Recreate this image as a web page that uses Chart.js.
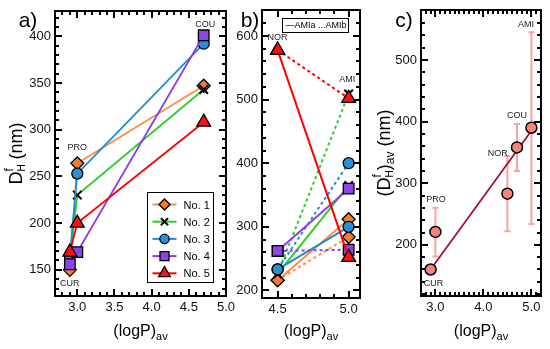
<!DOCTYPE html>
<html>
<head>
<meta charset="utf-8">
<script src="https://cdn.jsdelivr.net/npm/chart.js@4.4.1/dist/chart.umd.min.js"></script>
<style>
  body { margin: 0; background: #fff; width: 550px; height: 349px; position: relative; overflow: hidden; }
  canvas { position: absolute; top: 0; }
</style>
</head>
<body>
<canvas id="grafico-a" width="240" height="349" style="left:0"></canvas>
<canvas id="grafico-b" width="150" height="349" style="left:225px"></canvas>
<canvas id="grafico-c" width="185" height="349" style="left:365px"></canvas>
<script>
// a) D_H per site (CUR, PRO, COU)
const siteLogP = [2.9, 3.0, 4.7];
const dNo1 = [150, 264, 347];
const dNo2 = [162, 230, 343];
const dNo3 = [165, 253, 392];
const dNo4 = [156, 169, 401];
const dNo5 = [169, 200, 308];

// b) NOR -> AMI, solid = AMIa, dotted = AMIb
const norAmiLogP = [4.5, 5.0];
const amiaNo1 = [216, 312];
const amibNo1 = [216, 284];
const amiaNo2 = [226, 365];
const amibNo2 = [226, 509];
const amiaNo3 = [233, 300];
const amibNo3 = [233, 400];
const amiaNo4 = [262, 360];
const amibNo4 = [262, 264];
const amiaNo5 = [578, 252];
const amibNo5 = [578, 502];

// c) site averages with spread
const avgSites = ['CUR', 'PRO', 'NOR', 'COU', 'AMI'];
const avgLogP = [2.9, 3.0, 4.5, 4.7, 5.0];
const avgD = [160, 221, 283, 358, 390];
const avgLo = [null, 181, 222, 320, 234];
const avgHi = [null, 260, 344, 396, 545];
const fitLogP = [2.9, 5.0];
const fitD = [160, 385];

// tick labels
const xTicksA = [3.0, 3.5, 4.0, 4.5, 5.0];
const yTicksA = [150, 200, 250, 300, 350, 400];
const xTicksB = [4.5, 5.0];
const yTicksB = [200, 300, 400, 500, 600];
const xTicksC = [3.0, 4.0, 5.0];
const yTicksC = [200, 300, 400, 500];

const FONT = '"Liberation Sans", Arial, Helvetica, sans-serif';

const estilos = [
  { line: '#ff8c46', fill: '#f27b33', ps: 'rectRot', r: 6.5 },
  { line: '#2ecc2e', fill: '#000000', ps: 'crossRot', r: 6 },
  { line: '#1d8ed6', fill: '#2690d8', ps: 'circle', r: 5.5 },
  { line: '#8b3ee8', fill: '#8c45e6', ps: 'rect', r: 7.5 },
  { line: '#ff0000', fill: '#ff1010', ps: 'triangle', r: 8 }
];

function pts(xs, ys) {
  return xs.map((x, i) => ({ x: x, y: ys[i] }));
}

function pasos(a, b, step) {
  const out = [];
  for (let v = Math.ceil(a / step - 1e-9) * step; v <= b + 1e-9; v += step) out.push(+v.toFixed(4));
  return out;
}

function rich(ctx, parts, cx, cy, rotar) {
  ctx.save();
  ctx.translate(cx, cy);
  if (rotar) ctx.rotate(-Math.PI / 2);
  ctx.textBaseline = 'middle';
  ctx.textAlign = 'left';
  ctx.fillStyle = '#000';
  const anchos = parts.map(p => { ctx.font = p[1] + 'px ' + FONT; return ctx.measureText(p[0]).width; });
  let total = 0;
  parts.forEach((p, i) => { if (p[3] !== false) total += anchos[i]; });
  let x = -total / 2;
  parts.forEach((p, i) => {
    ctx.font = p[1] + 'px ' + FONT;
    ctx.fillText(p[0], x, p[2]);
    if (p[3] !== false) x += anchos[i];
  });
  ctx.restore();
}

const tituloX = [['(logP)', 16, 0], ['av', 11, 5]];

function decor(cfg) {
  return {
    id: 'decor',
    beforeDatasetsDraw(chart) {
      if (cfg.before) cfg.before(chart);
    },
    afterDraw(chart) {
      const ctx = chart.ctx;
      const a = chart.chartArea;
      const sx = chart.scales.x, sy = chart.scales.y;
      const L = Math.round(a.left), R = Math.round(a.right), T = Math.round(a.top), B = Math.round(a.bottom);
      ctx.save();
      ctx.fillStyle = '#000';
      // inward ticks on all four sides
      const tx = (vals, len) => {
        vals.forEach(v => {
          const p = Math.round(sx.getPixelForValue(v));
          if (p < L + 2 || p > R - 2) return;
          ctx.fillRect(p - 1, B - len, 2, len);
          ctx.fillRect(p - 1, T, 2, len);
        });
      };
      const ty = (vals, len) => {
        vals.forEach(v => {
          const p = Math.round(sy.getPixelForValue(v));
          if (p < T + 2 || p > B - 2) return;
          ctx.fillRect(L, p - 1, len, 2);
          ctx.fillRect(R - len, p - 1, len, 2);
        });
      };
      tx(cfg.xMinor, 4);
      tx(cfg.xMajor, 7);
      ty(cfg.yMinor, 4);
      ty(cfg.yMajor, 7);
      // frame
      ctx.fillRect(L - 1, T - 1, R - L + 2, 2);
      ctx.fillRect(L - 1, B - 1, R - L + 2, 2);
      ctx.fillRect(L - 1, T - 1, 2, B - T + 2);
      ctx.fillRect(R - 1, T - 1, 2, B - T + 2);

      ctx.fillStyle = '#222';
      ctx.font = '9px ' + FONT;
      ctx.textAlign = 'center';
      ctx.textBaseline = 'middle';
      cfg.etiquetas.forEach(l => ctx.fillText(l[0], sx.getPixelForValue(l[1]), sy.getPixelForValue(l[2])));

      ctx.fillStyle = '#000';
      ctx.font = '21px ' + FONT;
      ctx.fillText(cfg.letra, a.left - cfg.letraDx, 21);

      rich(ctx, tituloX, (a.left + a.right) / 2, 332, false);
      if (cfg.tituloY) rich(ctx, cfg.tituloY, a.left - cfg.tituloYDx, (a.top + a.bottom) / 2, true);
      if (cfg.extra) cfg.extra(chart);
      ctx.restore();
    }
  };
}

function escalas(xMin, xMax, yMin, yMax, xTicks, yTicks, anchoY, altoX) {
  return {
    x: {
      type: 'linear', min: xMin, max: xMax,
      afterBuildTicks: s => { s.ticks = xTicks.map(v => ({ value: v })); },
      afterFit: s => { s.height = altoX; s.paddingLeft = 0; s.paddingRight = 0; },
      ticks: { callback: v => Number(v).toFixed(1), font: { size: 13, family: FONT }, color: '#111', padding: 4, maxRotation: 0, autoSkip: false },
      grid: { display: false, drawTicks: false },
      border: { display: false }
    },
    y: {
      type: 'linear', min: yMin, max: yMax,
      afterBuildTicks: s => { s.ticks = yTicks.map(v => ({ value: v })); },
      afterFit: s => { s.width = anchoY; s.paddingTop = 0; s.paddingBottom = 0; },
      ticks: { font: { size: 13, family: FONT }, color: '#111', padding: 4, autoSkip: false },
      grid: { display: false, drawTicks: false },
      border: { display: false }
    }
  };
}

const opcionesBase = {
  responsive: false,
  animation: false,
  events: [],
  plugins: { legend: { display: false }, tooltip: { enabled: false } }
};

// ---------- panel a ----------
const seriesA = [dNo1, dNo2, dNo3, dNo4, dNo5];
new Chart(document.querySelector('#grafico-a'), {
  type: 'line',
  data: {
    datasets: seriesA.map((d, i) => ({
      label: 'No. ' + (i + 1),
      data: pts(siteLogP, d),
      borderColor: estilos[i].line,
      borderWidth: 1.8,
      pointStyle: estilos[i].ps,
      pointRadius: estilos[i].r,
      pointBackgroundColor: estilos[i].fill,
      pointBorderColor: '#000',
      pointBorderWidth: estilos[i].ps === 'crossRot' ? 2 : 1.3,
      order: 5 - i,
      clip: false
    }))
  },
  options: {
    ...opcionesBase,
    layout: { padding: { top: 11, right: 14, left: 0, bottom: 0 } },
    scales: escalas(2.7, 5.0, 122, 427, xTicksA, yTicksA, 55, 53)
  },
  plugins: [decor({
    xMajor: xTicksA, xMinor: pasos(2.7, 5.0, 0.1),
    yMajor: yTicksA, yMinor: pasos(122, 427, 10),
    etiquetas: [['CUR', 2.9, 135], ['PRO', 3.0, 281], ['COU', 4.72, 413]],
    letra: 'a)', letraDx: 27,
    tituloY: [['D', 18, 0], ['f', 12, -7, false], ['H', 10, 5], [' (nm)', 18, 0]],
    tituloYDx: 38,
    extra(chart) {
      const ctx = chart.ctx, a = chart.chartArea;
      const L = Math.round(a.left + 92) + 0.5, T = Math.round(a.top + 181) + 0.5, W = 66, H = 90;
      ctx.fillStyle = '#fff';
      ctx.fillRect(L, T, W, H);
      ctx.strokeStyle = '#000';
      ctx.lineWidth = 1;
      ctx.strokeRect(L, T, W, H);
      chart.data.datasets.forEach((ds, i) => {
        const yy = T + 12 + i * 17.2;
        ctx.strokeStyle = ds.borderColor;
        ctx.lineWidth = 2;
        ctx.beginPath(); ctx.moveTo(L + 5, yy); ctx.lineTo(L + 29, yy); ctx.stroke();
        ctx.fillStyle = ds.pointBackgroundColor;
        ctx.strokeStyle = '#000';
        ctx.lineWidth = ds.pointBorderWidth;
        Chart.helpers.drawPoint(ctx, { pointStyle: ds.pointStyle, radius: ds.pointRadius * 0.85, rotation: 0, borderWidth: ds.pointBorderWidth }, L + 17, yy);
        ctx.fillStyle = '#000';
        ctx.font = '11px ' + FONT;
        ctx.textAlign = 'left';
        ctx.textBaseline = 'middle';
        ctx.fillText(ds.label, L + 36, yy + 1);
      });
    }
  })]
});

// ---------- panel b ----------
const amiA = [amiaNo1, amiaNo2, amiaNo3, amiaNo4, amiaNo5];
const amiB = [amibNo1, amibNo2, amibNo3, amibNo4, amibNo5];
const datasetsB = [];
amiA.forEach((d, i) => {
  [[d, []], [amiB[i], [3, 3]]].forEach(([vals, dash]) => {
    datasetsB.push({
      data: pts(norAmiLogP, vals),
      borderColor: estilos[i].line,
      borderWidth: 2,
      borderDash: dash,
      pointStyle: estilos[i].ps,
      pointRadius: estilos[i].r,
      pointBackgroundColor: estilos[i].fill,
      pointBorderColor: '#000',
      pointBorderWidth: estilos[i].ps === 'crossRot' ? 2 : 1.3,
      order: 5 - i,
      clip: false
    });
  });
});
new Chart(document.querySelector('#grafico-b'), {
  type: 'line',
  data: { datasets: datasetsB },
  options: {
    ...opcionesBase,
    layout: { padding: { top: 10, right: 15, left: 0, bottom: 0 } },
    scales: escalas(4.39, 5.08, 188, 641, xTicksB, yTicksB, 37, 51)
  },
  plugins: [decor({
    xMajor: xTicksB, xMinor: pasos(4.39, 5.08, 0.1),
    yMajor: yTicksB, yMinor: pasos(188, 641, 20),
    etiquetas: [['NOR', 4.5, 597], ['AMI', 4.99, 532]],
    letra: 'b)', letraDx: 12,
    extra(chart) {
      const ctx = chart.ctx, a = chart.chartArea;
      const L = Math.round(a.left + 20) + 0.5, T = Math.round(a.top + 8) + 0.5;
      ctx.fillStyle = '#fff';
      ctx.fillRect(L, T, 66, 14);
      ctx.strokeStyle = '#000';
      ctx.lineWidth = 1;
      ctx.strokeRect(L, T, 66, 14);
      ctx.fillStyle = '#000';
      ctx.font = '9px ' + FONT;
      ctx.textAlign = 'left';
      ctx.textBaseline = 'middle';
      ctx.fillText('\u2014AMIa ...AMIb', L + 3, T + 7.5);
    }
  })]
});

// ---------- panel c ----------
new Chart(document.querySelector('#grafico-c'), {
  type: 'line',
  data: {
    datasets: [
      {
        data: pts(avgLogP, avgD),
        showLine: false,
        pointStyle: 'circle',
        pointRadius: 5.5,
        pointBackgroundColor: '#f4857d',
        pointBorderColor: '#000',
        pointBorderWidth: 1.5,
        order: 0,
        clip: false
      },
      {
        data: pts(fitLogP, fitD),
        borderColor: '#a0103e',
        borderWidth: 1.8,
        pointRadius: 0,
        order: 1
      }
    ]
  },
  options: {
    ...opcionesBase,
    layout: { padding: { top: 10, right: 9, left: 0, bottom: 0 } },
    scales: escalas(2.7, 5.2, 117, 581, xTicksC, yTicksC, 56, 53)
  },
  plugins: [decor({
    xMajor: xTicksC, xMinor: pasos(2.7, 5.2, 0.1),
    yMajor: yTicksC, yMinor: pasos(117, 581, 20),
    etiquetas: [['CUR', 2.96, 138], ['PRO', 3.01, 274], ['NOR', 4.3, 348], ['COU', 4.7, 410], ['AMI', 4.89, 557]],
    letra: 'c)', letraDx: 17,
    tituloY: [['(', 18, 0], ['D', 18, 0], ['f', 12, -7, false], ['H', 10, 5], [')', 18, 0], ['av', 12, 6], [' (nm)', 18, 0]],
    tituloYDx: 36,
    before(chart) {
      const ctx = chart.ctx, x = chart.scales.x, y = chart.scales.y;
      ctx.save();
      ctx.strokeStyle = '#f7a3a3';
      ctx.lineWidth = 2;
      avgLogP.forEach((v, i) => {
        if (avgLo[i] == null) return;
        const px = x.getPixelForValue(v);
        const y1 = y.getPixelForValue(avgLo[i]);
        const y2 = y.getPixelForValue(avgHi[i]);
        ctx.beginPath();
        ctx.moveTo(px, y1); ctx.lineTo(px, y2);
        ctx.moveTo(px - 3, y1); ctx.lineTo(px + 3, y1);
        ctx.moveTo(px - 3, y2); ctx.lineTo(px + 3, y2);
        ctx.stroke();
      });
      ctx.restore();
    }
  })]
});
</script>
</body>
</html>
